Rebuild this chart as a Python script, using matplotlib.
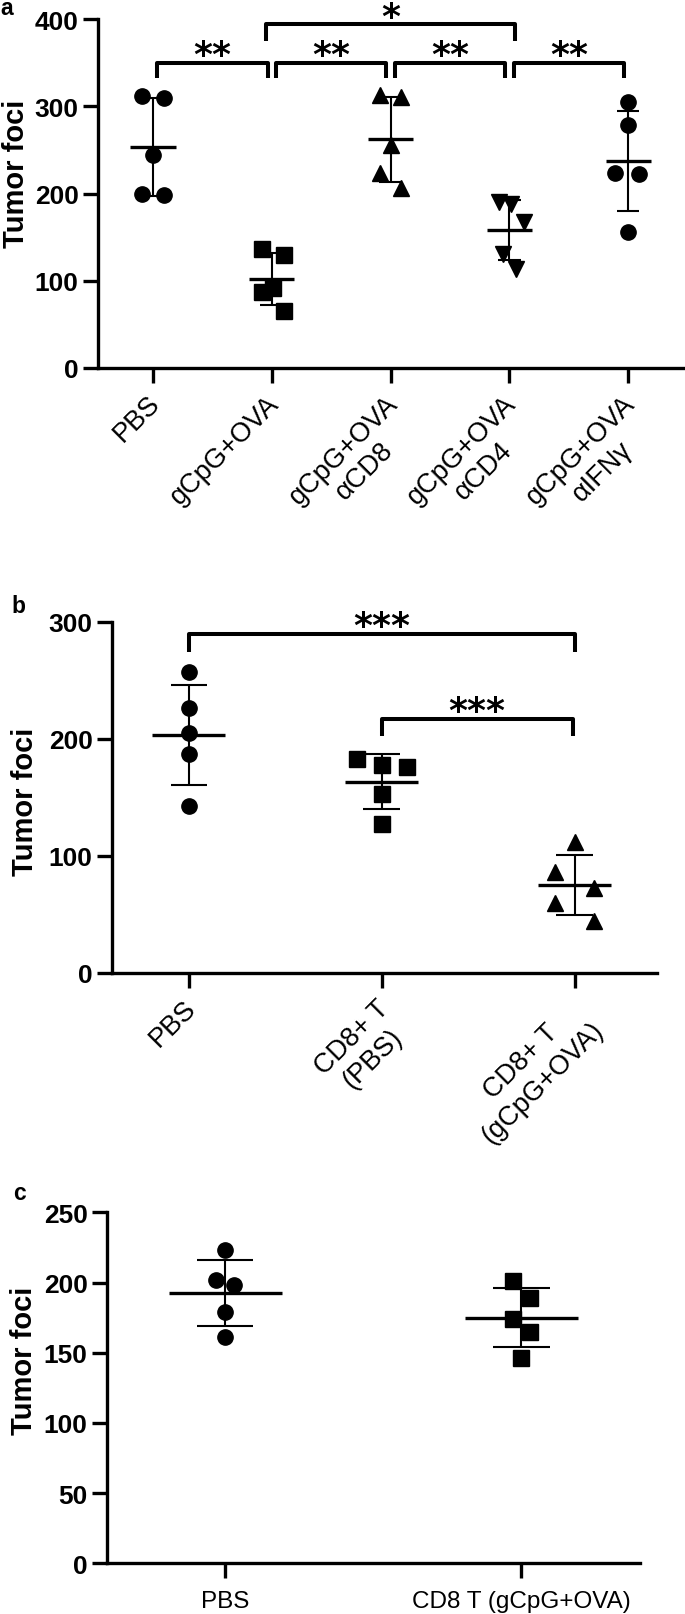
import matplotlib.pyplot as plt
import matplotlib.transforms as mtransforms
import numpy as np

plt.rcParams['font.family'] = ['Liberation Sans', 'DejaVu Sans']

# ---- panel a: tumor foci per treatment group
labels_a = ["PBS", "gCpG+OVA", "gCpG+OVA\nαCD8", "gCpG+OVA\nαCD4", "gCpG+OVA\nαIFNγ"]
pbs_a = [312, 310, 244, 200, 198]
ova_a = [136, 130, 87, 92, 65]
cd8_a = [313, 311, 256, 224, 206]
cd4_a = [190, 188, 167, 131, 114]
ifng_a = [305, 278, 224, 222, 156]
sig_a = [(0, 1, "**"), (1, 2, "**"), (2, 3, "**"), (3, 4, "**"), (1, 3, "*")]

# ---- panel b: adoptive transfer
labels_b = ["PBS", "CD8+ T\n(PBS)", "CD8+ T\n(gCpG+OVA)"]
pbs_b = [257, 226, 205, 187, 143]
cd8pbs_b = [183, 178, 176, 153, 127]
cd8ova_b = [112, 86, 73, 60, 44]
sig_b = [(0, 2, "***"), (1, 2, "***")]

# ---- panel c
labels_c = ["PBS", "CD8 T (gCpG+OVA)"]
pbs_c = [223, 202, 198, 179, 161]
cd8ova_c = [201, 189, 174, 165, 146]

# layout: horizontal spread of dots inside each group (category units)
spread_a = [[-0.09, 0.09, 0, -0.09, 0.09], [-0.08, 0.1, -0.08, 0.01, 0.1],
            [-0.09, 0.09, 0, -0.09, 0.09], [-0.09, 0.01, 0.12, -0.05, 0.055],
            [0, 0, -0.11, 0.09, 0]]
spread_b = [[0, 0, 0, 0, 0], [-0.13, 0, 0.13, 0, 0], [0, -0.1, 0.1, -0.1, 0.1]]
spread_c = [[0, -0.032, 0.031, 0, 0], [-0.03, 0.03, -0.03, 0.03, 0]]

W, H = 685, 1615
fig = plt.figure(figsize=(W / 100, H / 100), dpi=100)


def px_axes(left, right, top, bottom):
    return fig.add_axes([left / W, 1 - bottom / H, (right - left) / W, (bottom - top) / H])


def draw_group(ax, x, vals, offs, marker, ms):
    vals = np.asarray(vals, float)
    m = vals.mean()
    sd = vals.std(ddof=1)
    ax.vlines(x, m - sd, m + sd, color='k', lw=1.5, zorder=2)
    ax.hlines([m - sd, m + sd], x - 0.095, x + 0.095, color='k', lw=1.5, zorder=2)
    ax.hlines(m, x - 0.19, x + 0.19, color='k', lw=2.4, zorder=2)
    ax.plot(x + np.asarray(offs), vals, marker=marker, ms=ms, ls='none',
            color='k', mec='k', zorder=3, clip_on=False)


def bracket(ax, x1, x2, y, drop, text):
    ax.plot([x1, x1, x2, x2], [y - drop, y, y, y - drop], color='k', lw=2.9,
            clip_on=False, solid_joinstyle='round', solid_capstyle='butt')
    ax.annotate(text, xy=((x1 + x2) / 2, y), xytext=(0, 5.5), textcoords='offset points',
                ha='center', va='center', fontsize=26, fontweight='bold',
                family='DejaVu Sans', annotation_clip=False)


def style(ax, ymax, step, xlim, label_xy):
    for s in ['top', 'right']:
        ax.spines[s].set_visible(False)
    for s in ['left', 'bottom']:
        ax.spines[s].set_linewidth(2.4)
    ax.set_xlim(*xlim)
    ax.set_ylim(0, ymax)
    ax.set_yticks(np.arange(0, ymax + 1, step))
    ax.tick_params(width=2.4, length=10.8, color='k')
    ax.tick_params(axis='y', labelsize=19, pad=3)
    plt.setp(ax.get_yticklabels(), fontweight='bold')
    ax.set_ylabel("Tumor foci", fontsize=21, fontweight='bold', va='center')
    ax.yaxis.set_label_coords(*label_xy)


def rotated_labels(ax, labels):
    ax.set_xticks(range(len(labels)))
    ax.set_xticklabels(labels, rotation=45, ha='right', va='top',
                       rotation_mode='anchor', multialignment='center', fontsize=19.5)
    ax.tick_params(axis='x', pad=5)
    shift = mtransforms.ScaledTranslation(-6 / 100, 0, fig.dpi_scale_trans)
    for lab in ax.get_xticklabels():
        lab.set_transform(lab.get_transform() + shift)


# ---------------- panel a
ax_a = px_axes(97.7, 684, 20, 369)
for i, (vals, mk) in enumerate(zip([pbs_a, ova_a, cd8_a, cd4_a, ifng_a],
                                   ["o", "s", "^", "v", "o"])):
    draw_group(ax_a, i, vals, spread_a[i], mk, 11 if mk == "o" else 11.5)
style(ax_a, 400, 100, (-0.465, 4.47), (-0.139, 0.56))
rotated_labels(ax_a, labels_a)
for i, j, t in sig_a:
    if j - i == 1:
        bracket(ax_a, i + 0.035, j - 0.035, 350, 18, t)
    else:
        bracket(ax_a, i - 0.05, j + 0.05, 394, 19, t)

# ---------------- panel b
ax_b = px_axes(111.7, 657.5, 622.7, 974)
for i, (vals, mk) in enumerate(zip([pbs_b, cd8pbs_b, cd8ova_b], ["o", "s", "^"])):
    draw_group(ax_b, i, vals, spread_b[i], mk, 11 if mk == "o" else 11.5)
style(ax_b, 300, 100, (-0.4, 2.43), (-0.159, 0.49))
rotated_labels(ax_b, labels_b)
bracket(ax_b, sig_b[0][0], sig_b[0][1], 289.5, 15, sig_b[0][2])
bracket(ax_b, sig_b[1][0], sig_b[1][1] - 0.01, 217, 14.5, sig_b[1][2])

# ---------------- panel c
ax_c = px_axes(106.7, 640, 1213.3, 1564.3)
for i, (vals, mk) in enumerate(zip([pbs_c, cd8ova_c], ["o", "s"])):
    draw_group(ax_c, i, vals, spread_c[i], mk, 11 if mk == "o" else 11.5)
style(ax_c, 250, 50, (-0.4, 1.4), (-0.155, 0.579))
ax_c.set_xticks(range(len(labels_c)))
ax_c.set_xticklabels(labels_c, fontsize=17.5)
ax_c.tick_params(axis='x', pad=8.6)

# panel letters
fig.text(0 / W, 1 - 15 / H, "a", fontsize=16.5, fontweight='bold', va='baseline')
fig.text(11 / W, 1 - 613 / H, "b", fontsize=16.5, fontweight='bold', va='baseline')
fig.text(13 / W, 1 - 1200 / H, "c", fontsize=16.5, fontweight='bold', va='baseline')

fig.savefig("out.png", dpi=100)
